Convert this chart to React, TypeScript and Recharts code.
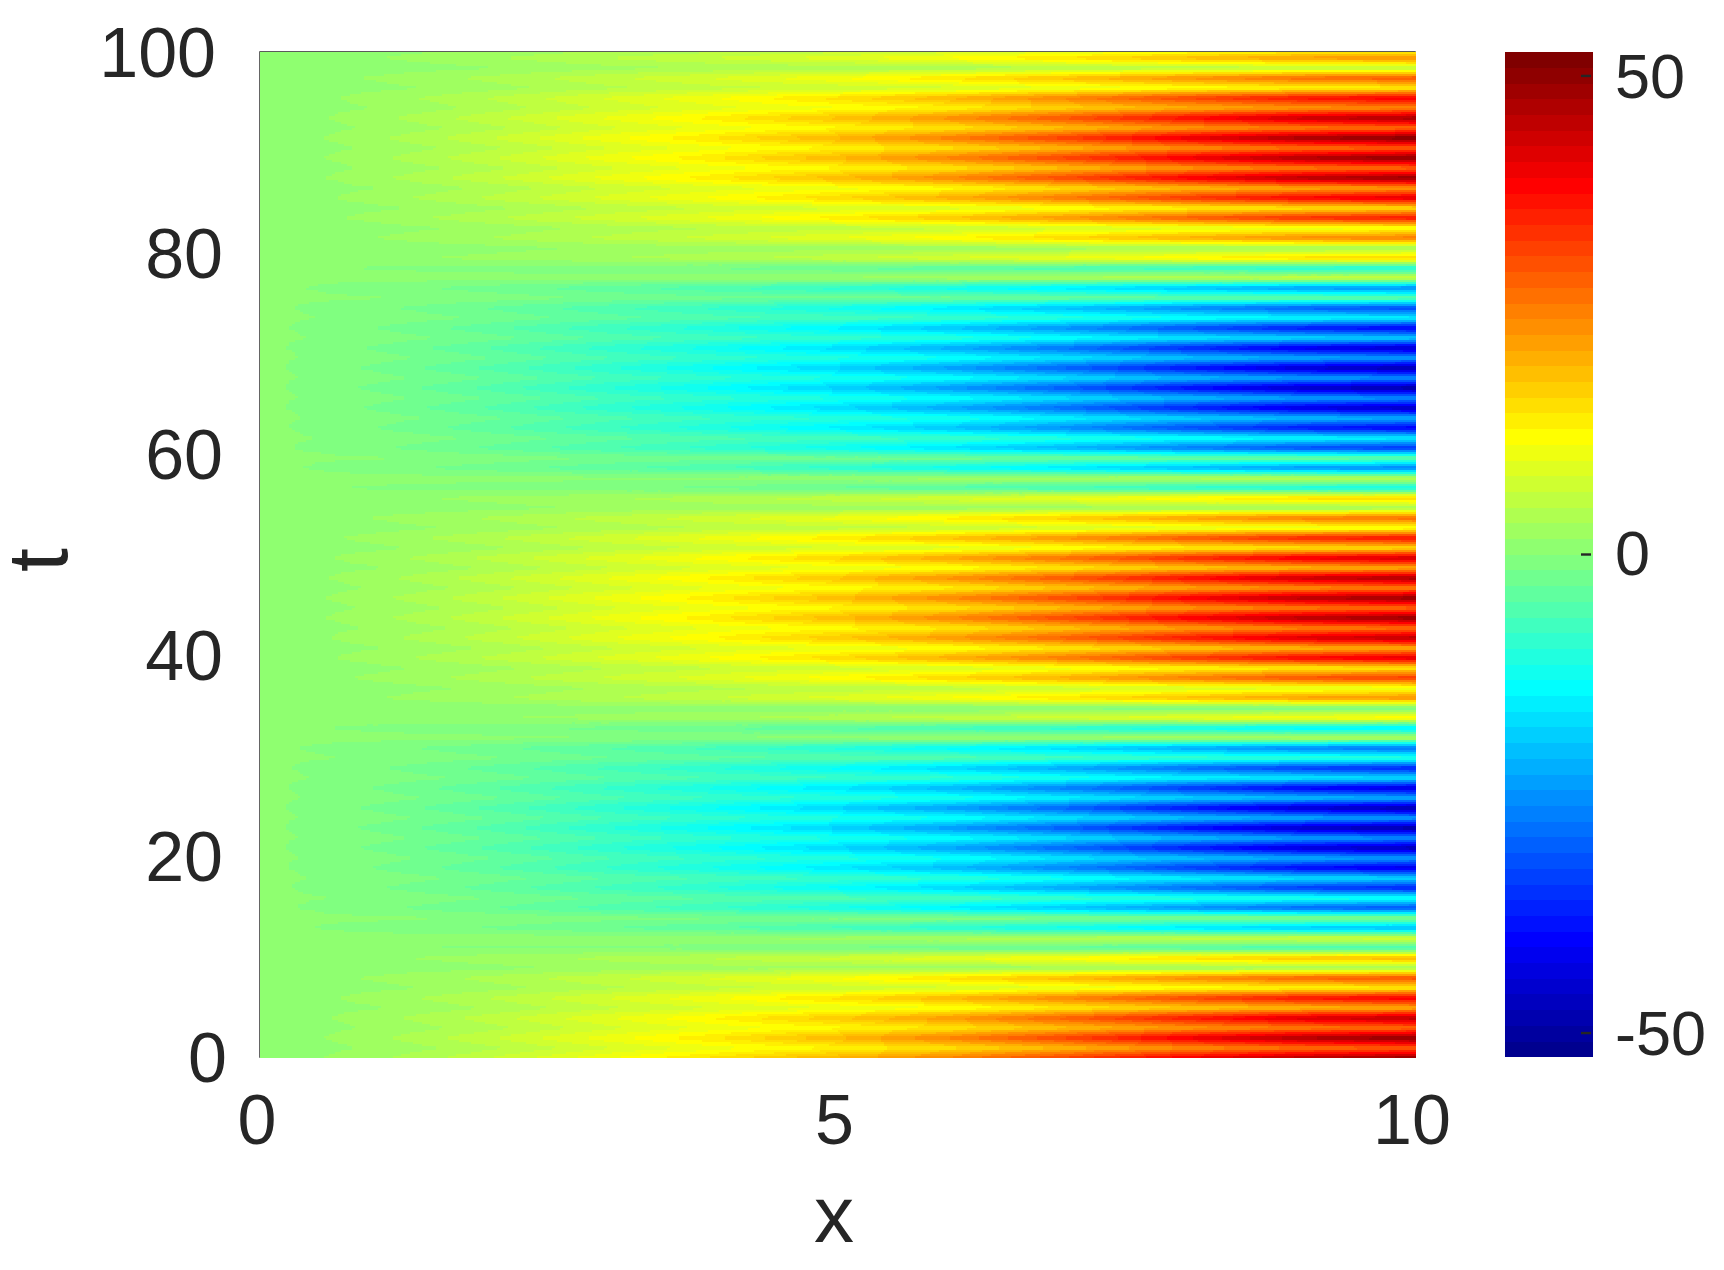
import React from "react";
import { ScatterChart, Scatter, XAxis, YAxis, ReferenceArea, Label } from "recharts";

// colour read along the right edge (x = 10), one value per time row, t = 0 upward
const edgeValues = [
  50, 28, 51, 27, 46, 20, 40, 13, 31, 2,
  20, -8, 8, -22, 0, -33, -12, -38, -18, -44,
  -24, -49, -25, -51, -24, -50, -22, -45, -17, -38,
  -10, -30, 5, -17, 13, -3, 24, 9, 33, 14,
  42, 20, 46, 26, 50, 27, 50, 25, 48, 20,
  44, 15, 38, 10, 28, 2, 17, -13, 6, -28,
  -3, -36, -15, -42, -22, -48, -25, -51, -25, -50,
  -24, -47, -19, -42, -15, -34, -4, -27, 7, -12,
  17, 2, 26, 10, 37, 15, 42, 22, 50, 27,
  51, 28, 52, 27, 48, 24, 40, 13, 30, 5,
  24, 8,
];
// how much of the edge value reaches each column (x = 0, 0.2, ... 10)
const slowProfile = [
  0, 0.008, 0.018, 0.028, 0.04, 0.051, 0.065, 0.08, 0.095, 0.112,
  0.129, 0.148, 0.168, 0.188, 0.208, 0.228, 0.246, 0.264, 0.282, 0.3,
  0.319, 0.337, 0.355, 0.373, 0.39, 0.408, 0.428, 0.448, 0.468, 0.489,
  0.51, 0.538, 0.566, 0.594, 0.622, 0.65, 0.68, 0.71, 0.74, 0.77,
  0.8, 0.825, 0.85, 0.875, 0.9, 0.925, 0.94, 0.955, 0.97, 0.985, 1,
];
const fastProfile = [
  0, 0.006, 0.014, 0.024, 0.035, 0.046, 0.054, 0.063, 0.071, 0.079,
  0.0875, 0.095, 0.102, 0.11, 0.118, 0.125, 0.137, 0.15, 0.162, 0.175,
  0.1875, 0.212, 0.236, 0.26, 0.284, 0.308, 0.338, 0.368, 0.398, 0.43,
  0.46, 0.484, 0.508, 0.532, 0.556, 0.58, 0.614, 0.648, 0.682, 0.716,
  0.75, 0.784, 0.818, 0.852, 0.886, 0.92, 0.936, 0.952, 0.968, 0.984, 1,
];
const xTicks = [0, 5, 10];
const tTicks = [0, 20, 40, 60, 80, 100];
const barTicks = [-50, 0, 50];

const X_STEP = 0.2;
const T_STEP = 0.995;
const BASE = 0.4;
const C_MAX = 52.5;
const LEVELS = 64;

const INK = "#262626";
const FONT = "'Liberation Sans', Arial, sans-serif";

const W = 1724;
const H = 1270;
const plot = { left: 260, right: 1415, top: 52, bottom: 1057 };
const bar = { left: 1505, right: 1593, top: 52, bottom: 1057 };

const CELL_W = ((plot.right - plot.left) / 10) * X_STEP;
const CELL_H = ((plot.bottom - plot.top) / 100) * T_STEP;
const SUB_X = 8;
const SUB_T = 5;

// jet(64)
const levelColor = (n: number) => {
  const c = (a: number, b: number) => Math.round(255 * Math.max(0, Math.min(1, a / 16, b / 16)));
  return `rgb(${c(n - 24, 72 - n)},${c(n - 8, 56 - n)},${c(n + 8, 40 - n)})`;
};
const valueLevel = (v: number) =>
  Math.max(1, Math.min(LEVELS, Math.floor(((v + C_MAX) / (2 * C_MAX)) * LEVELS) + 1));

const field = edgeValues.map((e, i) => {
  const before = edgeValues[Math.max(0, i - 1)];
  const after = edgeValues[Math.min(edgeValues.length - 1, i + 1)];
  const slow = (before + 2 * e + after) / 4;
  return slowProfile.map((f, j) => f * slow + fastProfile[j] * (e - slow) + BASE);
});

const cells = edgeValues.slice(0, -1).flatMap((_, i) =>
  slowProfile.slice(0, -1).map((_, j) => ({ x: j * X_STEP, t: i * T_STEP, i, j }))
);

const barLevels = Array.from({ length: LEVELS }, (_, k) => ({
  x: 0.5,
  v: ((k + 0.5) / LEVELS) * 2 * C_MAX - C_MAX,
  n: k + 1,
}));

// one mesh cell, shaded across its two triangles and snapped to the 64 colours
const MeshCell = (props: any) => {
  const { cx, cy, payload } = props;
  const { i, j } = payload;
  const a = field[i][j];
  const b = field[i][j + 1];
  const c = field[i + 1][j];
  const d = field[i + 1][j + 1];
  const out: React.ReactNode[] = [];
  for (let s = 0; s < SUB_T; s++) {
    const w = (s + 0.5) / SUB_T;
    const y1 = Math.max(plot.top, cy - (s + 1) * (CELL_H / SUB_T));
    const y2 = cy - s * (CELL_H / SUB_T) + 0.5;
    if (y2 <= plot.top) continue;
    let start = 0;
    let cur = -1;
    for (let k = 0; k <= SUB_X; k++) {
      let n = -2;
      if (k < SUB_X) {
        const u = (k + 0.5) / SUB_X;
        const v = u + w < 1 ? a + u * (b - a) + w * (c - a) : d + (1 - u) * (c - d) + (1 - w) * (b - d);
        n = valueLevel(v);
      }
      if (n !== cur) {
        if (cur > 0) {
          out.push(
            <rect
              key={`${s}-${start}`}
              x={cx + (start * CELL_W) / SUB_X}
              y={y1}
              width={((k - start) * CELL_W) / SUB_X + 0.5}
              height={y2 - y1}
              fill={levelColor(cur)}
              shapeRendering="crispEdges"
            />
          );
        }
        start = k;
        cur = n;
      }
    }
  }
  return <g>{out}</g>;
};

const BarBand = (props: any) => {
  const { cy, payload } = props;
  const h = (bar.bottom - bar.top) / LEVELS;
  return (
    <rect
      x={bar.left}
      y={cy - h / 2 - 0.25}
      width={bar.right - bar.left}
      height={h + 0.5}
      fill={levelColor(payload.n)}
      shapeRendering="crispEdges"
    />
  );
};

const BarTick = (props: any) => {
  const { x, y, payload } = props;
  return (
    <g>
      <line x1={x - 12} x2={x - 2} y1={y} y2={y} stroke={INK} strokeWidth={2.4} />
      <text x={x + 22} y={y} dy={payload.value === 0 ? 20 : 22} fontSize={63} fontFamily={FONT} fill={INK}>
        {payload.value}
      </text>
    </g>
  );
};

// left edge of the t labels does not line up exactly in the reference
const TTick = (props: any) => {
  const { y, payload } = props;
  const gap = payload.value === 100 ? 44 : payload.value === 0 ? 33 : 37;
  return (
    <text x={plot.left - gap} y={y} dy={25} textAnchor="end" fontSize={70} fontFamily={FONT} fill={INK}>
      {payload.value}
    </text>
  );
};

const App = () => {
  return (
    <div style={{ position: "absolute", left: 0, top: 0, width: W, height: H, background: "#fff" }}>
      <div style={{ position: "absolute", left: 0, top: 0 }}>
        <ScatterChart
          width={W}
          height={H}
          margin={{ left: plot.left - 200, right: W - plot.right, top: plot.top, bottom: H - plot.bottom - 100 }}
        >
          <XAxis
            type="number"
            dataKey="x"
            domain={[0, 10]}
            ticks={xTicks}
            height={100}
            axisLine={false}
            tickLine={false}
            tickSize={0}
            tickMargin={37}
            tick={{ fontSize: 70, fontFamily: FONT, fill: INK, dx: -3 }}
            interval={0}
          >
            <Label
              content={() => (
                <text x={834} y={1242} textAnchor="middle" fontSize={80} fontFamily={FONT} fill={INK}>
                  x
                </text>
              )}
            />
          </XAxis>
          <YAxis
            type="number"
            dataKey="t"
            domain={[0, 100]}
            ticks={tTicks}
            width={200}
            axisLine={false}
            tickLine={false}
            tickSize={0}
            tick={<TTick />}
            interval={0}
          >
            <Label
              content={() => (
                <text transform="translate(67,560) rotate(-90)" textAnchor="middle" fontSize={86} fontFamily={FONT} fill={INK}>
                  t
                </text>
              )}
            />
          </YAxis>
          <Scatter data={cells} shape={MeshCell} isAnimationActive={false} />
          <ReferenceArea x1={0} x2={10} y1={0} y2={100} fill="none" stroke={INK} strokeWidth={1.4} ifOverflow="visible" />
        </ScatterChart>
      </div>
      <div style={{ position: "absolute", left: 0, top: 0 }}>
        <ScatterChart
          width={W}
          height={H}
          margin={{ left: bar.left, right: W - bar.right - 130, top: bar.top, bottom: H - bar.bottom }}
        >
          <XAxis type="number" dataKey="x" domain={[0, 1]} hide />
          <YAxis
            type="number"
            dataKey="v"
            orientation="right"
            domain={[-C_MAX, C_MAX]}
            ticks={barTicks}
            width={130}
            axisLine={false}
            tickLine={false}
            tickSize={0}
            tickMargin={0}
            tick={<BarTick />}
            interval={0}
          />
          <Scatter data={barLevels} shape={BarBand} isAnimationActive={false} />
          <ReferenceArea
            x1={0.017}
            x2={0.983}
            y1={-C_MAX + 0.16}
            y2={C_MAX - 0.16}
            fill="none"
            stroke={INK}
            strokeWidth={3}
            ifOverflow="visible"
          />
        </ScatterChart>
      </div>
    </div>
  );
};

export default App;
